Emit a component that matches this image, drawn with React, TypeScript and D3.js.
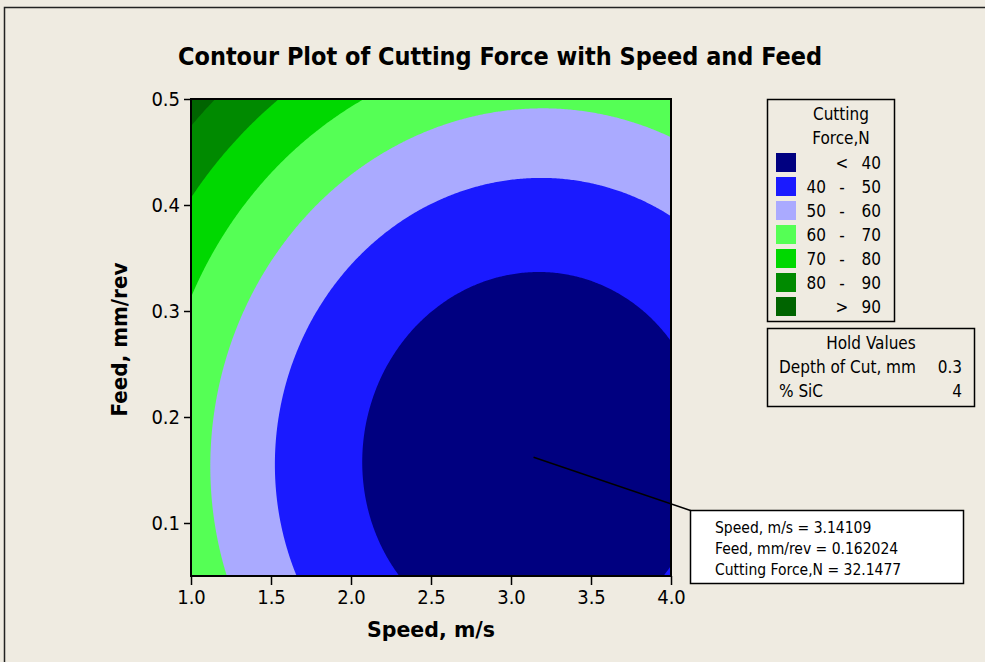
import React, { useRef, useEffect } from 'react';
import * as d3 from 'd3';

// Fitted response surface for Cutting Force,N (Depth of Cut and %SiC held)
const modelTerms = ['Constant', 'Speed', 'Feed', 'Speed*Speed', 'Feed*Feed', 'Speed*Feed'];
const modelCoefs = [105.05, -42.42, -76.48, 6.8, 257.17, -2.176];

// Axis ranges and ticks
const speedDomain = [1.0, 4.0];
const feedDomain = [0.05, 0.5];
const speedTicks = [1.0, 1.5, 2.0, 2.5, 3.0, 3.5, 4.0];
const feedTicks = [0.1, 0.2, 0.3, 0.4, 0.5];

// Contour levels and legend
const levels = [40, 50, 60, 70, 80, 90];
const levelColors = ['#000080', '#1a1aff', '#aaaaff', '#55ff55', '#00d800', '#008a00', '#006400'];
const levelLabels = [
    ['', '<', '40'],
    ['40', '-', '50'],
    ['50', '-', '60'],
    ['60', '-', '70'],
    ['70', '-', '80'],
    ['80', '-', '90'],
    ['', '>', '90'],
];

// Hold values
const holdNames = ['Depth of Cut, mm', '% SiC'];
const holdValues = ['0.3', '4'];

// Crosshair readout
const cursorSpeed = 3.14109;
const cursorFeed = 0.162024;
const cursorForce = 32.1477;

const font = "Tahoma, 'DejaVu Sans Condensed', 'DejaVu Sans', sans-serif";

const force = (s: number, f: number) => {
    const terms = [1, s, f, s * s, f * f, s * f];
    return d3.sum(terms, (t, i) => t * modelCoefs[i]);
};

const ContourChart: React.FC = () => {
    const svgRef = useRef<SVGSVGElement | null>(null);

    useEffect(() => {
        if (!svgRef.current) return;
        const svg = d3.select(svgRef.current);
        svg.selectAll('*').remove();

        const width = 985;
        const height = 662;
        const plot = { left: 191, right: 671, top: 99, bottom: 576 };

        // Page background and outer frame
        svg.append('rect')
            .attr('width', width)
            .attr('height', height)
            .attr('fill', '#efebe1');
        svg.append('rect')
            .attr('x', 4.5)
            .attr('y', 7.5)
            .attr('width', 1000)
            .attr('height', 700)
            .attr('fill', 'none')
            .attr('stroke', '#222')
            .attr('stroke-width', 1.5);

        const x = d3.scaleLinear().domain(speedDomain).range([plot.left, plot.right]);
        const y = d3.scaleLinear().domain(feedDomain).range([plot.bottom, plot.top]);

        // Evaluate the surface on a grid
        const nx = 301;
        const ny = 226;
        const ds = (speedDomain[1] - speedDomain[0]) / (nx - 1);
        const df = (feedDomain[1] - feedDomain[0]) / (ny - 1);
        const values = new Array(nx * ny);
        for (let j = 0; j < ny; j++) {
            for (let i = 0; i < nx; i++) {
                values[j * nx + i] = force(speedDomain[0] + i * ds, feedDomain[0] + j * df);
            }
        }

        const contours = d3.contours().size([nx, ny]).thresholds(levels)(values);
        const path = d3.geoPath(
            d3.geoTransform({
                point(px: number, py: number) {
                    this.stream.point(
                        x(speedDomain[0] + (px - 0.5) * ds),
                        y(feedDomain[0] + (py - 0.5) * df),
                    );
                },
            }),
        );

        svg.append('clipPath')
            .attr('id', 'plot-clip')
            .append('rect')
            .attr('x', plot.left)
            .attr('y', plot.top)
            .attr('width', plot.right - plot.left)
            .attr('height', plot.bottom - plot.top);

        const g = svg.append('g').attr('clip-path', 'url(#plot-clip)');
        g.append('rect')
            .attr('x', plot.left)
            .attr('y', plot.top)
            .attr('width', plot.right - plot.left)
            .attr('height', plot.bottom - plot.top)
            .attr('fill', levelColors[0]);
        g.selectAll('path.band')
            .data(contours)
            .enter()
            .append('path')
            .attr('class', 'band')
            .attr('d', (d) => path(d as any))
            .attr('fill', (d, i) => levelColors[i + 1]);

        // Plot frame
        svg.append('rect')
            .attr('x', plot.left)
            .attr('y', plot.top)
            .attr('width', plot.right - plot.left)
            .attr('height', plot.bottom - plot.top)
            .attr('fill', 'none')
            .attr('stroke', '#000')
            .attr('stroke-width', 2);

        // Axes
        const xAxis = svg.append('g')
            .attr('transform', `translate(0,${plot.bottom})`)
            .call(
                d3.axisBottom(x)
                    .tickValues(speedTicks)
                    .tickFormat(d3.format('.1f'))
                    .tickSize(9)
                    .tickSizeOuter(0)
                    .tickPadding(5),
            );
        const yAxis = svg.append('g')
            .attr('transform', `translate(${plot.left},0)`)
            .call(
                d3.axisLeft(y)
                    .tickValues(feedTicks)
                    .tickFormat(d3.format('.1f'))
                    .tickSize(7)
                    .tickSizeOuter(0)
                    .tickPadding(4),
            );
        [xAxis, yAxis].forEach((ax) => {
            ax.select('.domain').remove();
            ax.selectAll('line').attr('stroke', '#000').attr('stroke-width', 1.5);
            ax.selectAll('text')
                .attr('fill', '#000')
                .style('font-family', font)
                .style('font-size', '20px');
        });

        // Titles
        svg.append('text')
            .attr('x', 500)
            .attr('y', 65)
            .attr('text-anchor', 'middle')
            .attr('textLength', 644)
            .attr('lengthAdjust', 'spacingAndGlyphs')
            .style('font-family', font)
            .style('font-weight', 'bold')
            .style('font-size', '24px')
            .text('Contour Plot of Cutting Force with Speed and Feed');
        svg.append('text')
            .attr('x', (plot.left + plot.right) / 2)
            .attr('y', 637)
            .attr('text-anchor', 'middle')
            .attr('textLength', 128)
            .attr('lengthAdjust', 'spacingAndGlyphs')
            .style('font-family', font)
            .style('font-weight', 'bold')
            .style('font-size', '21px')
            .text('Speed, m/s');
        svg.append('text')
            .attr('transform', `translate(127,${(plot.top + plot.bottom) / 2 + 2}) rotate(-90)`)
            .attr('text-anchor', 'middle')
            .attr('textLength', 154)
            .attr('lengthAdjust', 'spacingAndGlyphs')
            .style('font-family', font)
            .style('font-weight', 'bold')
            .style('font-size', '21px')
            .text('Feed, mm/rev');

        // Legend
        const legend = svg.append('g').style('font-family', font).style('font-size', '17px');
        legend.append('rect')
            .attr('x', 767.5)
            .attr('y', 99.5)
            .attr('width', 127)
            .attr('height', 222)
            .attr('fill', 'none')
            .attr('stroke', '#000')
            .attr('stroke-width', 1.5);
        legend.append('text').attr('x', 841).attr('y', 120).attr('text-anchor', 'middle').text('Cutting');
        legend.append('text').attr('x', 841).attr('y', 144).attr('text-anchor', 'middle').text('Force,N');
        levelLabels.forEach((lab, i) => {
            const ry = 153 + i * 24;
            legend.append('rect')
                .attr('x', 776)
                .attr('y', ry)
                .attr('width', 20)
                .attr('height', 19)
                .attr('fill', levelColors[i]);
            legend.append('text').attr('x', 826).attr('y', ry + 16).attr('text-anchor', 'end').text(lab[0]);
            legend.append('text').attr('x', 842).attr('y', ry + 16).attr('text-anchor', 'middle').text(lab[1]);
            legend.append('text').attr('x', 881).attr('y', ry + 16).attr('text-anchor', 'end').text(lab[2]);
        });

        // Hold values box
        const hold = svg.append('g').style('font-family', font).style('font-size', '17px');
        hold.append('rect')
            .attr('x', 767.5)
            .attr('y', 328.5)
            .attr('width', 207)
            .attr('height', 78)
            .attr('fill', 'none')
            .attr('stroke', '#000')
            .attr('stroke-width', 1.5);
        hold.append('text').attr('x', 871).attr('y', 349).attr('text-anchor', 'middle').text('Hold Values');
        holdNames.forEach((name, i) => {
            hold.append('text').attr('x', 779).attr('y', 373 + i * 24).text(name);
            hold.append('text')
                .attr('x', 962)
                .attr('y', 373 + i * 24)
                .attr('text-anchor', 'end')
                .text(holdValues[i]);
        });

        // Crosshair annotation
        const box = { x: 690.5, y: 510.5, w: 273, h: 73 };
        svg.append('line')
            .attr('x1', x(cursorSpeed))
            .attr('y1', y(cursorFeed))
            .attr('x2', box.x)
            .attr('y2', box.y)
            .attr('stroke', '#000')
            .attr('stroke-width', 1.5);
        const note = svg.append('g').style('font-family', font).style('font-size', '15.5px');
        note.append('rect')
            .attr('x', box.x)
            .attr('y', box.y)
            .attr('width', box.w)
            .attr('height', box.h)
            .attr('fill', '#fff')
            .attr('stroke', '#000')
            .attr('stroke-width', 1.5);
        const noteLines = [
            `Speed, m/s = ${cursorSpeed}`,
            `Feed, mm/rev = ${cursorFeed}`,
            `Cutting Force,N = ${cursorForce}`,
        ];
        noteLines.forEach((t, i) => {
            note.append('text').attr('x', 715).attr('y', 533 + i * 21).text(t);
        });
    }, []);

    return (
        <svg
            ref={svgRef}
            width={985}
            height={662}
            style={{ position: 'absolute', left: 0, top: 0 }}
        ></svg>
    );
};

export default function App() {
    return <ContourChart />;
}
